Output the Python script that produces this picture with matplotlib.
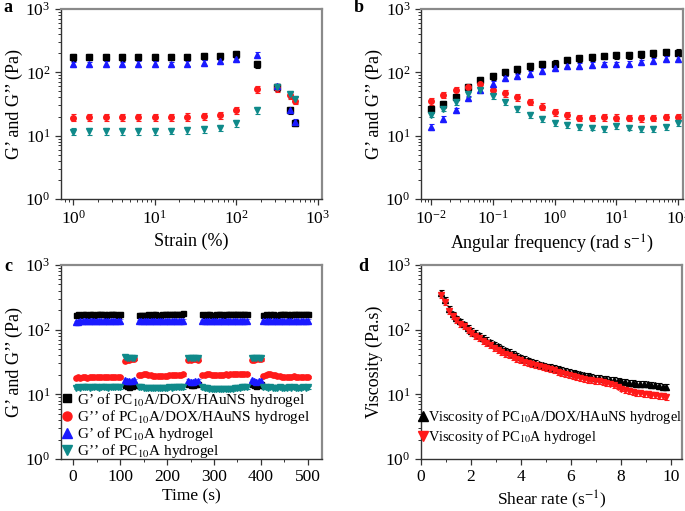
import matplotlib.pyplot as plt
import numpy as np
from matplotlib.lines import Line2D
from matplotlib.ticker import LogLocator, MultipleLocator, NullFormatter

plt.rcParams['font.family'] = ['Liberation Serif', 'DejaVu Serif']
plt.rcParams['mathtext.fontset'] = 'stix'

# colours
col_gp_dox, col_gpp_dox, col_gp_pc, col_gpp_pc = 'black', '#ff1a1a', '#1a1aff', '#0f8a8a'

# ---- a: strain sweep
strain    = [1, 1.58, 2.51, 3.98, 6.31, 10, 15.8, 25.1, 39.8, 63.1, 100, 178, 316, 450, 520]
a_gp_dox  = [174, 175, 174, 174, 175, 174, 175, 176, 180, 180, 191, 134, 58, 25, 16]
a_gpp_dox = [19.3, 19.6, 19.4, 19.5, 19.5, 19.4, 19.6, 19.8, 20.4, 21, 25, 53.5, 56, 43.7, 35.8]
a_gp_pc   = [134, 134, 135, 134, 135, 135, 134, 137, 141, 151, 164, 189, 60, 25, 16.4]
a_gpp_pc  = [11.6, 11.8, 11.8, 11.8, 11.8, 11.8, 11.9, 12.2, 12.7, 13.3, 15.8, 25.3, 58.8, 44.7, 37.5]

# ---- b: frequency sweep
freq      = [0.01, 0.0158, 0.0251, 0.0398, 0.0631, 0.1, 0.158, 0.251, 0.398, 0.631, 1,
             1.58, 2.51, 3.98, 6.31, 10, 15.8, 25.1, 39.8, 63.1, 100]
b_gp_dox  = [26, 31.5, 41, 58, 75, 87, 100, 111, 124, 136, 137, 158, 166, 172, 183, 184, 186, 194, 198, 208, 205]
b_gpp_dox = [35, 44, 52, 59, 65, 53, 46.5, 40, 34, 28.7, 23.4, 20.8, 19.1, 19.1, 19.5, 19.3, 19.1, 18.7, 19.1, 19.7, 19.7]
b_gp_pc   = [13.7, 18.3, 25, 39, 52, 66, 80, 86, 94, 105, 115, 126, 126, 131, 134, 134, 137, 144, 153, 162, 164]
b_gpp_pc  = [21.5, 26.7, 33.4, 45.8, 51.6, 41.7, 33.4, 26.4, 21.3, 18.5, 16.0, 14.9, 13.6, 13.4, 12.7, 14.2,
             13.4, 12.7, 12.7, 13.5, 15.9]

# ---- c: alternate strain time sweep (segments: low, high, low, high, low, high, low)
seg_bounds = [(5, 100), (110, 130), (140, 235), (245, 265), (275, 370), (380, 400), (405, 500)]
c_gp_dox = [170, 172, 171, 173, 172, 170, 174, 173, 171, 172, 174, 173, 172, 171, 173, 175, 172, 173, 171, 174,
            14, 13.5, 13, 13.3, 13.8,
            168, 170, 171, 170, 172, 171, 173, 172, 170, 171, 173, 174, 172, 173, 175, 174, 176, 175, 177, 178,
            14.5, 14, 13.8, 14.2, 14.6,
            172, 171, 173, 172, 170, 171, 173, 174, 172, 171, 173, 172, 174, 173, 175, 174, 172, 173, 174, 172,
            14.5, 14, 13.6, 13.9, 14.3,
            170, 172, 171, 173, 172, 171, 170, 172, 173, 174, 172, 171, 173, 172, 174, 173, 172, 173, 174, 175]
c_gpp_dox = [18.2, 18.3, 18.2, 18.4, 18.3, 18.2, 18.4, 18.5, 18.3, 18.4, 18.5, 18.4, 18.3, 18.5, 18.6, 18.5, 18.4, 18.6, 18.5, 18.6,
             33, 34, 34.5, 34.8, 35,
             19.6, 20.2, 20.5, 20.3, 20.0, 19.7, 19.5, 19.2, 19.0, 18.9, 19.0, 19.2, 19.4, 19.6, 19.7, 19.8, 19.9, 20.0, 20.2, 20.3,
             34, 34.5, 35, 34.8, 34.5,
             19.8, 20.2, 20.5, 20.4, 20.2, 20.0, 19.9, 20.0, 20.1, 20.2, 20.3, 20.2, 20.4, 20.3, 20.5, 20.4, 20.3, 20.4, 20.5, 20.6,
             34, 34.5, 35, 34.8, 34.6,
             19.5, 20.0, 20.4, 20.3, 20.0, 19.6, 19.3, 19.0, 18.8, 18.7, 18.6, 18.7, 18.8, 18.9, 18.8, 18.7, 18.6, 18.7, 18.8, 18.7]
c_gp_pc = [130, 133, 134, 135, 134, 136, 135, 134, 136, 135, 134, 135, 136, 135, 134, 136, 135, 136, 135, 136,
           16.5, 16, 15.8, 16.2, 16.4,
           134, 135, 136, 135, 134, 136, 135, 136, 134, 135, 136, 135, 137, 136, 135, 136, 137, 136, 135, 136,
           16, 15.5, 15.4, 15.8, 16.2,
           135, 136, 135, 134, 136, 135, 136, 135, 134, 135, 136, 135, 136, 137, 136, 135, 136, 135, 136, 137,
           16.4, 16, 15.6, 15.8, 16.2,
           134, 135, 136, 135, 134, 135, 136, 135, 134, 135, 136, 135, 134, 135, 136, 135, 134, 136, 135, 136]
c_gpp_pc = [12.7, 12.8, 12.7, 12.8, 12.9, 12.8, 12.7, 12.8, 12.9, 12.8, 12.7, 12.8, 12.9, 12.8, 12.7, 12.8, 12.9, 12.8, 12.9, 12.8,
            37.5, 37, 36.5, 36, 36,
            12.8, 12.9, 12.7, 12.6, 12.5, 12.4, 12.5, 12.6, 12.5, 12.4, 12.5, 12.6, 12.7, 12.8, 12.7, 12.8, 12.9, 12.8, 12.9, 13.0,
            37, 36.5, 36.5, 36, 36.2,
            12.8, 12.6, 12.4, 12.2, 12.1, 12.0, 11.9, 12.0, 11.9, 12.0, 12.1, 12.2, 12.1, 12.3, 12.4, 12.5, 12.7, 12.8, 12.9, 13.0,
            37, 36.8, 36.4, 36.2, 36.5,
            12.9, 12.8, 12.7, 12.8, 12.7, 12.6, 12.7, 12.8, 12.7, 12.6, 12.7, 12.8, 12.7, 12.8, 12.7, 12.6, 12.7, 12.8, 12.7, 12.8]

# ---- d: viscosity vs shear rate
shear = [0.82, 0.97, 1.12, 1.27, 1.42, 1.57, 1.72, 1.87, 2.02, 2.17, 2.32, 2.47, 2.62, 2.77, 2.92, 3.07,
         3.22, 3.37, 3.52, 3.67, 3.82, 3.97, 4.12, 4.27, 4.42, 4.57, 4.72, 4.87, 5.02, 5.17, 5.32, 5.47,
         5.62, 5.77, 5.92, 6.07, 6.22, 6.37, 6.52, 6.67, 6.82, 6.97, 7.12, 7.27, 7.42, 7.57, 7.72, 7.87,
         8.02, 8.17, 8.32, 8.47, 8.62, 8.77, 8.92, 9.07, 9.22, 9.37, 9.52, 9.67, 9.82]
visc_dox = [372, 290, 210, 172, 150, 134, 121, 108, 97, 89, 82, 75, 69, 64, 59, 55,
            51.5, 48, 45, 42.5, 40, 37.5, 35.5, 33.5, 32, 30.5, 29.2, 28.2, 27.2, 26.4, 25.6, 24.8,
            24, 23.2, 22.3, 21.5, 21, 20.3, 19.6, 19.2, 18.8, 18.2, 17.9, 17.5, 17.2, 16.9, 16.6, 16.2,
            15.8, 15.5, 15.2, 14.9, 14.7, 14.6, 14.6, 14.3, 14.0, 13.7, 13.5, 13.2, 13.1]
visc_pc = [345, 272, 196, 160, 140, 124, 112, 100, 89, 81, 74, 67, 62, 57, 52, 49,
           45.5, 42.5, 40, 37.5, 35.5, 33.5, 32, 30.5, 29, 28, 27, 26, 25.2, 24.3, 23.4, 22.5,
           21.6, 20.8, 20, 19.3, 18.6, 17.9, 17.2, 16.8, 16.5, 16.2, 15.9, 15.5, 15.1, 14.7, 14, 13.2,
           12.3, 11.8, 11.3, 10.9, 10.6, 10.4, 10.2, 10, 9.8, 9.6, 9.4, 9.3, 9.2]

fig = plt.figure(figsize=(6.85, 5.11), dpi=100)
ax_a = fig.add_axes([0.089, 0.6106, 0.381, 0.372])
ax_b = fig.add_axes([0.6146, 0.6106, 0.3824, 0.372])
ax_c = fig.add_axes([0.089, 0.1018, 0.381, 0.3796])
ax_d = fig.add_axes([0.6146, 0.1018, 0.381, 0.3796])


def style(ax):
    ax.set_yscale('log')
    ax.set_ylim(1, 1000)
    ax.yaxis.set_major_locator(LogLocator(base=10, numticks=10))
    ax.yaxis.set_minor_locator(LogLocator(base=10, subs=np.arange(2, 10), numticks=20))
    ax.yaxis.set_minor_formatter(NullFormatter())
    for s in ['left', 'bottom']:
        ax.spines[s].set_color('#333333')
        ax.spines[s].set_linewidth(1.0)
    for s in ['top', 'right']:
        ax.spines[s].set_color('#8a8a8a')
        ax.spines[s].set_linewidth(1.6)
    ax.tick_params(which='major', direction='out', length=4, width=0.9, labelsize=12.5,
                   top=False, right=False, color='#333333')
    ax.tick_params(which='minor', direction='out', length=2.2, width=0.7,
                   top=False, right=False, color='#333333')


def pts(ax, x, y, color, marker, ms, rel, ecol=None):
    y = np.asarray(y)
    ax.errorbar(x, y, yerr=y * rel, fmt=marker, color=color, ms=ms, mec=color,
                ecolor=ecol or color, elinewidth=0.8, capsize=1.8, capthick=0.8)


# panel a
pts(ax_a, strain, a_gp_dox, col_gp_dox, 's', 3.8, 0.12)
pts(ax_a, strain, a_gpp_dox, col_gpp_dox, 'o', 4.0, 0.13)
pts(ax_a, strain, a_gp_pc, col_gp_pc, '^', 4.2, 0.10)
pts(ax_a, strain, a_gpp_pc, col_gpp_pc, 'v', 4.2, 0.12)
ax_a.set_xscale('log')
ax_a.set_xlim(0.71, 1120)
style(ax_a)
ax_a.xaxis.set_minor_locator(LogLocator(base=10, subs=np.arange(2, 10), numticks=20))
ax_a.xaxis.set_minor_formatter(NullFormatter())
ax_a.set_xlabel('Strain (%)', fontsize=13)
ax_a.set_ylabel('G’ and G’’ (Pa)', fontsize=13, labelpad=2)

# panel b
pts(ax_b, freq, b_gp_dox, col_gp_dox, 's', 3.8, 0.12)
pts(ax_b, freq, b_gpp_dox, col_gpp_dox, 'o', 4.0, 0.12)
pts(ax_b, freq, b_gp_pc, col_gp_pc, '^', 4.2, 0.10)
pts(ax_b, freq, b_gpp_pc, col_gpp_pc, 'v', 4.2, 0.10)
ax_b.set_xscale('log')
ax_b.set_xlim(0.0069, 120)
style(ax_b)
ax_b.xaxis.set_major_locator(LogLocator(base=10, numticks=10))
ax_b.xaxis.set_minor_locator(LogLocator(base=10, subs=np.arange(2, 10), numticks=20))
ax_b.xaxis.set_minor_formatter(NullFormatter())
ax_b.set_xlabel('Angular frequency (rad s$^{-1}$)', fontsize=13)
ax_b.set_ylabel('G’ and G’’ (Pa)', fontsize=13, labelpad=2)

# panel c
c_time = np.concatenate([np.arange(s, e + 1, 5) for s, e in seg_bounds])
pts(ax_c, c_time, c_gp_dox, col_gp_dox, 's', 3.6, 0.06, '#666666')
pts(ax_c, c_time, c_gpp_dox, col_gpp_dox, 'o', 3.8, 0.04)
pts(ax_c, c_time, c_gp_pc, col_gp_pc, '^', 3.8, 0.06, '#7a7aff')
pts(ax_c, c_time, c_gpp_pc, col_gpp_pc, 'v', 3.8, 0.06)
ax_c.set_xlim(-26, 530)
style(ax_c)
ax_c.xaxis.set_major_locator(MultipleLocator(100))
ax_c.xaxis.set_minor_locator(MultipleLocator(50))
ax_c.set_xlabel('Time (s)', fontsize=12.5, labelpad=2)
ax_c.set_ylabel('G’ and G’’ (Pa)', fontsize=13, labelpad=2)
handles_c = [Line2D([], [], ls='', marker='s', color=col_gp_dox, ms=5.5),
             Line2D([], [], ls='', marker='o', color=col_gpp_dox, ms=6.5),
             Line2D([], [], ls='', marker='^', color=col_gp_pc, ms=6.5),
             Line2D([], [], ls='', marker='v', color=col_gpp_pc, ms=6.5)]
labels_c = ['G’ of PC$_{10}$A/DOX/HAuNS hydrogel', 'G’’ of PC$_{10}$A/DOX/HAuNS hydrogel',
            'G’ of PC$_{10}$A hydrogel', 'G’’ of PC$_{10}$A hydrogel']
ax_c.legend(handles_c, labels_c, loc='lower left', frameon=False, fontsize=11,
            handlelength=0.6, handletextpad=0.35, labelspacing=-0.05, borderpad=0.1,
            borderaxespad=0.0, bbox_to_anchor=(0.0, -0.015))

# panel d
pts(ax_d, shear, visc_dox, 'black', '^', 3.8, 0.10)
pts(ax_d, shear, visc_pc, '#ff1a1a', 'v', 3.8, 0.10)
ax_d.set_xlim(0, 10.45)
style(ax_d)
ax_d.xaxis.set_major_locator(MultipleLocator(2))
ax_d.xaxis.set_minor_locator(MultipleLocator(1))
ax_d.set_xlabel('Shear rate (s$^{-1}$)', fontsize=12.5, labelpad=2)
ax_d.set_ylabel('Viscosity (Pa.s)', fontsize=13, labelpad=2)
handles_d = [Line2D([], [], ls='', marker='^', color='black', ms=6.5),
             Line2D([], [], ls='', marker='v', color='#ff1a1a', ms=6.5)]
labels_d = ['Viscosity of PC$_{10}$A/DOX/HAuNS hydrogel', 'Viscosity of PC$_{10}$A hydrogel']
ax_d.legend(handles_d, labels_d, loc='lower left', frameon=False, fontsize=10.4,
            handlelength=0.5, handletextpad=0.05, labelspacing=0.1, borderpad=0.1,
            borderaxespad=0.0, bbox_to_anchor=(-0.01, 0.06))

for lab, x, y in [('a', 0.012, 0.985), ('b', 0.523, 0.985), ('c', 0.012, 0.478), ('d', 0.53, 0.478)]:
    fig.text(x, y, lab, fontsize=13, fontweight='bold', ha='center', va='center')

fig.savefig('out.png', dpi=100)
